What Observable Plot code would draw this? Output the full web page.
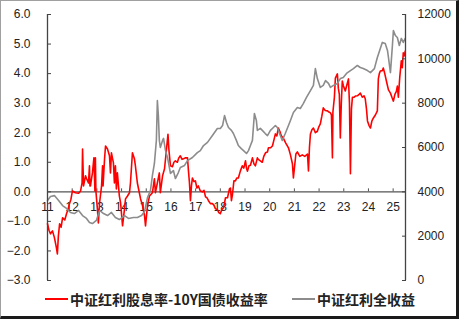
<!DOCTYPE html>
<html><head><meta charset="utf-8">
<script src="https://cdn.jsdelivr.net/npm/d3@7"></script>
<script src="https://cdn.jsdelivr.net/npm/@observablehq/plot@0.6"></script>
<style>
body{margin:0;background:#fff;}
#frame{position:relative;box-sizing:border-box;width:459px;height:319px;border-top:1px solid #a0a0a0;border-left:1px solid #a0a0a0;border-right:3px solid #1a1a1a;border-bottom:3px solid #1a1a1a;background:#fff;overflow:hidden;}
#frame svg{display:block;}
.lg{position:absolute;top:287px;height:22px;display:flex;align-items:center;font-family:"Noto Sans CJK SC",sans-serif;font-weight:bold;font-size:14px;color:#222;white-space:nowrap;}
.sw{display:inline-block;width:23px;height:2px;margin-right:2px;}
</style></head>
<body>
<div id="frame"><div id="chart"></div>
<div class="lg" style="left:44px"><span class="sw" style="background:#ff0000"></span>中证红利股息率-10Y国债收益率</div>
<div class="lg" style="left:291px"><span class="sw" style="background:#8c8c8c"></span>中证红利全收益</div>
</div>
<script>
const years = [2011,2012,2013,2014,2015,2016,2017,2018,2019,2020,2021,2022,2023,2024,2025];
const leftTicks = [-3,-2,-1,0,1,2,3,4,5,6];
const rightTicks = [0,2000,4000,6000,8000,10000,12000];
const rightMax = 12000;

// 中证红利股息率-10Y国债收益率 (%)
const redT = [2011.00,2011.06,2011.12,2011.20,2011.28,2011.36,2011.40,2011.44,2011.49,2011.55,2011.61,2011.70,2011.77,2011.83,2011.89,2011.95,
2012.01,2012.13,2012.26,2012.34,2012.40,2012.42,2012.46,2012.54,2012.58,2012.66,2012.70,2012.72,2012.74,2012.82,2012.88,2012.92,2012.94,2012.96,
2013.02,2013.06,2013.11,2013.19,2013.23,2013.25,2013.31,2013.35,2013.43,2013.51,2013.55,2013.59,2013.67,2013.71,2013.75,2013.79,2013.83,2013.91,2013.96,
2014.04,2014.12,2014.16,2014.24,2014.32,2014.36,2014.44,2014.52,2014.56,2014.64,2014.72,2014.77,2014.85,2014.93,2014.97,
2015.05,2015.13,2015.25,2015.33,2015.37,2015.45,2015.53,2015.57,2015.66,2015.74,2015.82,2015.88,2015.92,2015.98,
2016.06,2016.12,2016.18,2016.26,2016.32,2016.38,2016.45,2016.51,2016.58,2016.67,2016.71,2016.75,2016.79,2016.83,2016.87,2016.93,2016.99,
2017.05,2017.11,2017.19,2017.28,2017.34,2017.40,2017.46,2017.52,2017.60,2017.68,2017.74,2017.80,2017.88,2017.94,
2018.00,2018.06,2018.13,2018.21,2018.29,2018.37,2018.41,2018.45,2018.49,2018.55,2018.61,2018.67,2018.73,2018.81,2018.89,2018.95,
2019.02,2019.06,2019.10,2019.16,2019.22,2019.30,2019.36,2019.42,2019.50,2019.54,2019.62,2019.70,2019.76,2019.83,2019.91,2019.95,
2020.03,2020.11,2020.17,2020.23,2020.29,2020.35,2020.41,2020.47,2020.55,2020.65,2020.76,2020.84,2020.92,2020.96,
2021.00,2021.06,2021.12,2021.22,2021.32,2021.42,2021.53,2021.57,2021.61,2021.65,2021.71,2021.77,2021.85,2021.93,2021.99,
2022.05,2022.11,2022.17,2022.25,2022.34,2022.40,2022.46,2022.50,2022.54,2022.56,2022.62,2022.66,2022.74,2022.78,2022.82,2022.86,2022.90,2022.94,2022.98,
2023.06,2023.12,2023.19,2023.23,2023.27,2023.31,2023.35,2023.41,2023.47,2023.55,2023.62,2023.67,2023.75,2023.82,2023.87,2023.92,2023.96,
2024.02,2024.08,2024.14,2024.20,2024.28,2024.36,2024.40,2024.44,2024.48,2024.56,2024.60,2024.66,2024.74,2024.81,2024.89,2024.95,
2025.01,2025.07,2025.13,2025.17,2025.21,2025.27,2025.33,2025.37,2025.41,2025.45,2025.49];
const redV = [-1.08,-1.30,-1.42,-1.32,-1.55,-1.89,-2.10,-1.50,-1.08,-1.20,-0.88,-0.95,-0.74,-0.60,-0.40,-0.25,
0.03,-0.03,-0.05,0.03,0.30,1.45,0.20,0.54,0.45,0.30,0.88,0.20,0.20,0.64,1.15,0.03,1.15,0.03,
-0.57,-1.05,-0.37,0.20,0.88,0.20,1.10,1.55,1.45,1.22,0.64,1.32,0.98,0.30,0.88,0.10,0.64,-0.14,-0.37,
-1.15,-0.57,-0.24,-0.14,-0.03,0.30,1.32,1.12,0.88,0.30,-0.03,-0.24,-0.47,-0.81,-1.15,
-0.47,-0.14,-0.03,0.44,-0.03,0.30,0.64,-0.03,0.54,0.78,1.45,1.95,1.40,0.88,
0.85,1.00,1.05,1.00,1.15,1.22,1.10,1.12,1.15,1.15,0.70,0.30,-0.30,0.20,0.47,0.35,0.37,
0.13,0.20,0.03,0.00,0.05,-0.17,-0.20,-0.30,-0.40,-0.40,-0.45,-0.57,-0.60,-0.70,
-0.74,-0.60,-0.54,-0.20,-0.20,0.10,0.13,-0.30,-0.10,0.37,0.37,0.47,0.47,0.70,0.88,0.80,
1.05,0.80,0.70,0.88,0.90,1.15,0.95,0.88,1.15,1.10,1.05,1.00,1.20,1.32,1.35,1.49,
1.49,1.55,1.75,1.96,1.89,2.16,2.05,1.90,1.82,1.65,1.49,1.25,0.95,0.47,
0.80,1.28,1.35,1.20,1.25,1.20,1.28,0.71,1.50,1.96,2.10,2.16,2.00,2.05,2.20,
2.30,2.55,2.84,2.75,2.74,2.70,2.67,2.60,1.15,2.70,3.20,3.85,3.99,3.50,3.30,1.82,3.00,3.75,3.60,
3.41,3.60,3.82,3.00,0.61,2.80,3.20,3.20,3.24,3.25,3.30,3.34,3.20,3.25,3.15,2.80,2.40,
2.25,2.16,2.40,2.50,2.60,2.74,3.82,4.00,4.09,4.10,4.19,4.00,3.70,3.45,3.34,3.20,
3.07,3.30,3.40,3.58,3.20,3.90,4.43,4.20,4.70,4.60,4.76];

// 中证红利全收益 (点)
const grayT = [2011.00,2011.12,2011.28,2011.45,2011.61,2011.77,2011.93,2012.09,2012.26,2012.42,2012.58,2012.70,2012.82,2012.98,
2013.11,2013.27,2013.43,2013.59,2013.75,2013.91,2014.12,2014.28,2014.48,2014.64,2014.81,2014.93,
2015.05,2015.17,2015.25,2015.33,2015.41,2015.45,2015.49,2015.53,2015.57,2015.66,2015.70,2015.78,2015.86,2015.98,
2016.10,2016.18,2016.30,2016.38,2016.55,2016.67,2016.87,2017.07,2017.19,2017.32,2017.48,2017.68,2017.88,
2018.00,2018.09,2018.17,2018.25,2018.33,2018.45,2018.53,2018.65,2018.73,2018.85,2018.94,
2019.06,2019.14,2019.22,2019.30,2019.38,2019.46,2019.50,2019.62,2019.70,2019.82,2019.91,
2020.03,2020.15,2020.23,2020.31,2020.43,2020.51,2020.63,2020.76,2020.84,2020.96,
2021.12,2021.24,2021.36,2021.49,2021.65,2021.77,2021.85,2021.93,
2022.05,2022.17,2022.26,2022.38,2022.46,2022.58,2022.74,2022.86,2022.98,
2023.11,2023.27,2023.39,2023.55,2023.67,2023.79,2023.96,
2024.08,2024.24,2024.36,2024.48,2024.56,2024.68,2024.77,2024.81,2024.89,2024.97,
2025.01,2025.09,2025.17,2025.25,2025.33,2025.41,2025.49];
const grayV = [3610,3790,3830,3610,3380,3250,3070,3020,3160,2930,2800,2620,2570,2710,
3160,3020,2930,3070,2840,2750,2930,2800,2840,2840,2930,3110,
3740,4060,4740,5280,6320,8120,7440,6320,6000,6320,6410,5860,5550,4830,
4960,4600,4870,5100,5190,5410,5550,5770,5860,6090,6230,6540,6860,
6860,6990,7440,7130,6900,6770,6630,6320,6090,5950,5860,
5730,5860,6090,6320,7530,7220,6770,6860,6770,6630,6540,
6770,6900,6990,6900,6540,6320,6630,6990,7220,7580,
7800,7760,7980,8260,8570,8800,9560,9110,
8710,8800,9020,8890,8710,8800,8890,9110,9160,
9340,9470,9560,9700,9610,9560,9470,
9380,9560,10060,10470,10740,10690,10380,10060,9380,10600,
11280,11050,10960,10600,10920,10740,10920];

const red = redT.map((t,i)=>({t, v: redV[i]}));
const gray = grayT.map((t,i)=>({t, v: grayV[i]}));
// map right-axis values onto the left scale
const toLeft = r => r / rightMax * 9 - 3;
const fromLeft = v => (v + 3) / 9 * rightMax;

const chart = Plot.plot({
  width: 455, height: 286,
  marginLeft: 46, marginRight: 51, marginTop: 13, marginBottom: 7,
  style: {fontFamily: "'Liberation Sans', Arial, sans-serif", fontSize: "12px", color: "#222", background: "#fff", overflow: "visible"},
  x: {domain: [2011, 2025.5], axis: null},
  y: {domain: [-3, 6], axis: null},
  marks: [
    Plot.ruleY([0], {stroke: "#555", strokeWidth: 1.2}),
    Plot.ruleX(years.slice(1), {x: d=>d, y1: 0, y2: 0, insetTop: -3, stroke: "#555"}),
    Plot.text(years, {x: d=>d, y: 0, dy: 15, text: d => String(d).slice(2), fontSize: 12, fill: "#222"}),
    Plot.line(red, {x: "t", y: "v", stroke: "#ff0000", strokeWidth: 1.6}),
    Plot.line(gray, {x: "t", y: d => toLeft(d.v), stroke: "#8c8c8c", strokeWidth: 1.6}),
    Plot.ruleX([2011], {stroke: "#444", strokeWidth: 1.3}),
    Plot.ruleX([2025.5], {stroke: "#444", strokeWidth: 1.3}),
    Plot.axisY({anchor: "left", label: null, ticks: leftTicks, tickFormat: d3.format(".1f"), tickSize: 4, dx: 4, tickPadding: 17, stroke: "#444", fontSize: 12, fill: "#222"}),
    Plot.axisY({anchor: "right", label: null, ticks: rightTicks.map(toLeft), tickFormat: v => String(Math.round(fromLeft(v))), tickSize: 4, dx: -4, tickPadding: 12, stroke: "#444", fontSize: 12, fill: "#222"})
  ]
});
document.getElementById("chart").appendChild(chart);
</script>
</body></html>
